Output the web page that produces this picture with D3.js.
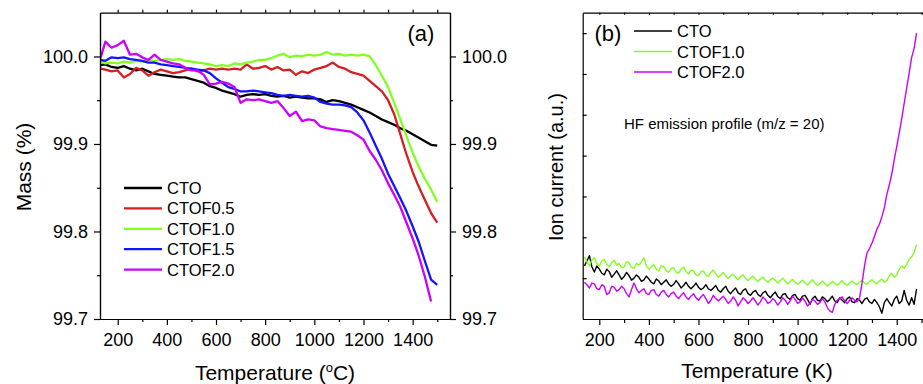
<!DOCTYPE html>
<html>
<head>
<meta charset="utf-8">
<script src="https://cdn.jsdelivr.net/npm/d3@7"></script>
<style>
body { margin: 0; background: #fff; }
text { font-family: "Liberation Sans", Arial, sans-serif; fill: #000; }
.axis .domain, .axis .tick line { stroke: #000; stroke-width: 1.2; }
.axis text { font-size: 18px; }
.line { fill: none; stroke-linejoin: round; }
</style>
</head>
<body>
<script>
// ---- panel (a) data: TGA mass (%) vs temperature (°C)
var tempA = [130, 150, 175, 200, 225, 250, 275, 300, 325, 350, 375, 400, 425, 450, 475, 500,
    525, 550, 575, 600, 625, 650, 675, 700, 725, 750, 775, 800, 825, 850, 875, 900,
    925, 950, 975, 1000, 1025, 1050, 1075, 1100, 1125, 1150, 1175, 1200, 1225, 1250,
    1275, 1300, 1325, 1350, 1375, 1400, 1425, 1450, 1475, 1500];

var massCTO = [99.990, 99.991, 99.988, 99.987, 99.989, 99.986, 99.984, 99.986, 99.983, 99.980,
    99.979, 99.978, 99.977, 99.976, 99.976, 99.974, 99.972, 99.970, 99.966, 99.964, 99.961,
    99.959, 99.957, 99.954, 99.956, 99.957, 99.956, 99.957, 99.955, 99.954, 99.955, 99.953,
    99.954, 99.953, 99.952, 99.952, 99.951, 99.948, 99.950, 99.949, 99.947, 99.945, 99.942,
    99.939, 99.936, 99.932, 99.928, 99.925, 99.922, 99.918, 99.915, 99.911, 99.907, 99.903,
    99.899, 99.898];

var massF05 = [99.986, 99.985, 99.983, 99.984, 99.976, 99.980, 99.987, 99.984, 99.978, 99.982,
    99.985, 99.983, 99.981, 99.982, 99.984, 99.986, 99.983, 99.984, 99.986, 99.985, 99.986,
    99.985, 99.986, 99.985, 99.991, 99.986, 99.987, 99.989, 99.985, 99.988, 99.984, 99.985,
    99.979, 99.983, 99.981, 99.985, 99.987, 99.989, 99.993, 99.988, 99.986, 99.982, 99.980,
    99.978, 99.972, 99.966, 99.960, 99.950, 99.934, 99.911, 99.888, 99.868, 99.851, 99.836,
    99.821, 99.810];

var massF10 = [99.995, 99.992, 99.993, 99.992, 99.994, 99.993, 99.995, 99.994, 99.996, 99.995,
    99.996, 99.997, 99.996, 99.997, 99.995, 99.994, 99.993, 99.992, 99.991, 99.989, 99.990,
    99.989, 99.992, 99.991, 99.993, 99.994, 99.996, 99.996, 99.998, 100.001, 100.003, 99.999,
    100.001, 100.000, 100.002, 100.001, 100.002, 100.005, 100.002, 100.003, 100.001, 100.002,
    100.001, 100.002, 100.000, 99.990, 99.978, 99.965, 99.947, 99.928, 99.909, 99.890, 99.874,
    99.860, 99.848, 99.834];

var massF15 = [99.996, 99.995, 99.999, 99.998, 99.999, 99.997, 99.996, 99.995, 99.993, 99.993,
    99.991, 99.990, 99.989, 99.988, 99.987, 99.986, 99.985, 99.984, 99.981, 99.975, 99.970,
    99.965, 99.963, 99.960, 99.960, 99.961, 99.960, 99.959, 99.958, 99.956, 99.955, 99.956,
    99.955, 99.954, 99.955, 99.953, 99.948, 99.946, 99.945, 99.945, 99.944, 99.942, 99.936,
    99.927, 99.913, 99.898, 99.883, 99.866, 99.852, 99.838, 99.823, 99.806, 99.788, 99.766,
    99.745, 99.739];

var massF20 = [99.998, 100.017, 100.010, 100.013, 100.018, 100.002, 100.003, 99.999, 99.996, 100.002,
    99.996, 99.994, 99.992, 99.991, 99.987, 99.984, 99.984, 99.979, 99.968, 99.969, 99.971,
    99.969, 99.965, 99.947, 99.951, 99.950, 99.951, 99.949, 99.947, 99.949, 99.941, 99.932,
    99.937, 99.926, 99.928, 99.927, 99.920, 99.918, 99.917, 99.916, 99.915, 99.914, 99.910,
    99.905, 99.892, 99.882, 99.870, 99.855, 99.842, 99.828, 99.810, 99.792, 99.772, 99.748,
    99.720, null];

var namesA = ["CTO", "CTOF0.5", "CTOF1.0", "CTOF1.5", "CTOF2.0"];
var colorsA = ["#000000", "#d42020", "#80ff20", "#1414ff", "#cc00ff"];
var seriesA = [massCTO, massF05, massF10, massF15, massF20];

// ---- panel (b) data: ion current (a.u.) vs temperature (K)
var tempB = [140, 150, 160, 170, 180, 190, 200, 210, 220, 230, 240, 250, 260, 270, 280, 290,
    300, 310, 320, 330, 340, 350, 360, 370, 380, 390, 400, 410, 420, 430, 440, 450, 460,
    470, 480, 490, 500, 510, 520, 530, 540, 550, 560, 570, 580, 590, 600, 610, 620, 630,
    640, 650, 660, 670, 680, 690, 700, 710, 720, 730, 740, 750, 760, 770, 780, 790, 800,
    810, 820, 830, 840, 850, 860, 870, 880, 890, 900, 910, 920, 930, 940, 950, 960, 970,
    980, 990, 1000, 1010, 1020, 1030, 1040, 1050, 1060, 1070, 1080, 1090, 1100, 1110, 1120,
    1130, 1140, 1150, 1160, 1170, 1180, 1190, 1200, 1210, 1220, 1230, 1240, 1250, 1260,
    1270, 1280, 1290, 1300, 1310, 1320, 1330, 1340, 1350, 1360, 1370, 1380, 1390, 1400,
    1410, 1420, 1430, 1440, 1450, 1460, 1470, 1480];

var ionCTO = [1.30, 1.42, 1.55, 1.28, 1.15, 1.30, 1.22, 1.12, 1.08, 1.22, 1.16, 1.02, 1.10, 1.18,
    1.08, 0.97, 1.04, 1.14, 1.06, 0.95, 1.00, 1.08, 1.02, 0.92, 0.96, 1.05, 0.98, 0.90, 0.86,
    0.98, 0.93, 0.84, 0.90, 0.96, 0.86, 0.80, 0.85, 0.94, 0.86, 0.76, 0.82, 0.90, 0.80, 0.74,
    0.80, 0.88, 0.78, 0.72, 0.76, 0.84, 0.74, 0.70, 0.76, 0.82, 0.70, 0.66, 0.74, 0.80, 0.68,
    0.62, 0.70, 0.76, 0.64, 0.60, 0.70, 0.74, 0.62, 0.58, 0.66, 0.70, 0.60, 0.55, 0.64, 0.68,
    0.58, 0.52, 0.60, 0.66, 0.55, 0.50, 0.60, 0.62, 0.52, 0.48, 0.58, 0.60, 0.50, 0.46, 0.56,
    0.58, 0.48, 0.36, 0.50, 0.56, 0.46, 0.44, 0.54, 0.50, 0.42, 0.48, 0.56, 0.44, 0.40, 0.52,
    0.46, 0.40, 0.50, 0.54, 0.42, 0.40, 0.50, 0.46, 0.38, 0.48, 0.52, 0.42, 0.38, 0.48, 0.40,
    0.30, 0.14, 0.40, 0.50, 0.40, 0.32, 0.48, 0.56, 0.38, 0.44, 0.70, 0.46, 0.34, 0.52, 0.36,
    0.74];

var ionF10 = [1.52, 1.40, 1.30, 1.45, 1.50, 1.36, 1.30, 1.42, 1.46, 1.34, 1.28, 1.38, 1.44, 1.32,
    1.36, 1.26, 1.27, 1.40, 1.38, 1.26, 1.24, 1.36, 1.32, 1.40, 1.50, 1.30, 1.22, 1.28, 1.33,
    1.22, 1.18, 1.30, 1.28, 1.18, 1.14, 1.24, 1.26, 1.15, 1.12, 1.22, 1.27, 1.16, 1.10, 1.20,
    1.18, 1.08, 1.06, 1.16, 1.18, 1.08, 1.04, 1.14, 1.20, 1.10, 1.02, 1.08, 1.14, 1.05, 0.99,
    1.06, 1.10, 1.02, 0.96, 1.04, 1.08, 0.99, 0.94, 1.00, 1.05, 0.97, 0.92, 0.98, 1.03, 0.95,
    0.90, 0.96, 1.00, 0.94, 0.88, 0.94, 1.00, 0.93, 0.86, 0.92, 0.97, 0.90, 0.85, 0.90, 0.95,
    0.88, 0.83, 0.90, 0.96, 0.88, 0.82, 0.86, 0.93, 0.87, 0.81, 0.86, 0.92, 0.88, 0.83, 0.88,
    0.94, 0.86, 0.82, 0.88, 0.93, 0.87, 0.84, 0.90, 0.95, 0.88, 0.85, 0.92, 0.96, 0.90, 0.86,
    0.93, 0.98, 0.90, 0.94, 1.06, 1.12, 1.02, 1.08, 1.22, 1.30, 1.24, 1.34, 1.46, 1.52, 1.62,
    1.82];

var ionF20 = [0.90, 0.84, 0.76, 0.88, 0.86, 0.74, 0.72, 0.84, 0.80, 0.60, 0.64, 0.80, 0.78, 0.68,
    0.72, 0.80, 0.74, 0.62, 0.54, 0.72, 0.88, 0.74, 0.64, 0.70, 0.74, 0.62, 0.60, 0.70, 0.72,
    0.60, 0.56, 0.66, 0.70, 0.60, 0.54, 0.62, 0.66, 0.56, 0.50, 0.58, 0.64, 0.54, 0.48, 0.56,
    0.62, 0.52, 0.46, 0.54, 0.60, 0.50, 0.38, 0.46, 0.58, 0.50, 0.44, 0.50, 0.56, 0.48, 0.38,
    0.44, 0.54, 0.46, 0.32, 0.42, 0.52, 0.46, 0.38, 0.44, 0.52, 0.44, 0.34, 0.42, 0.54, 0.48,
    0.38, 0.42, 0.50, 0.44, 0.34, 0.42, 0.52, 0.46, 0.36, 0.44, 0.56, 0.48, 0.38, 0.42, 0.52,
    0.44, 0.32, 0.38, 0.48, 0.44, 0.36, 0.40, 0.50, 0.42, 0.28, 0.20, 0.16, 0.36, 0.46, 0.50,
    0.54, 0.44, 0.38, 0.46, 0.52, 0.46, 0.42, 0.52, 0.88, 1.30, 1.62, 1.72, 1.86, 2.02, 2.20,
    2.32, 2.50, 2.72, 3.05, 3.28, 3.55, 3.90, 4.22, 4.55, 4.90, 5.28, 5.65, 6.02, 6.40, 6.62,
    7.00];

var namesB = ["CTO", "CTOF1.0", "CTOF2.0"];
var colorsB = ["#000000", "#80ff20", "#cc00ff"];
var seriesB = [ionCTO, ionF10, ionF20];

var xMajor = [200, 400, 600, 800, 1000, 1200, 1400];
var xMinor = [100, 300, 500, 700, 900, 1100, 1300, 1500];
var yMajorA = [99.7, 99.8, 99.9, 100.0];
var yMinorA = [99.75, 99.85, 99.95];
var yTicksB = [1, 2, 3, 4, 5, 6, 7];

var svg = d3.select("body").append("svg")
    .attr("width", 923)
    .attr("height", 384)
    .style("background", "#fff");

// ================= panel (a) =================
var xa = d3.scaleLinear().domain([128, 1552]).range([100, 450]);
var ya = d3.scaleLinear().domain([99.7, 100.05]).range([319, 12.7]);

svg.append("defs").append("clipPath").attr("id", "clipA")
    .append("rect").attr("x", 100).attr("y", 12.7).attr("width", 350).attr("height", 306.3);

var lineA = function(vals) {
    return d3.line()
        .defined(function(d, i) { return vals[i] != null; })
        .x(function(d, i) { return xa(tempA[i]); })
        .y(function(d, i) { return ya(vals[i]); })(tempA);
};

var gA = svg.append("g").attr("clip-path", "url(#clipA)");
seriesA.forEach(function(vals, k) {
    gA.append("path")
        .attr("class", "line")
        .attr("d", lineA(vals))
        .attr("stroke", colorsA[k])
        .attr("stroke-width", 2.3);
});

// bottom axis
svg.append("g").attr("class", "axis").attr("transform", "translate(0,319)")
    .call(d3.axisBottom(xa).tickValues(xMinor.filter(function(t) { return t > 128; }))
        .tickSize(3).tickSizeOuter(0).tickFormat(""));
svg.append("g").attr("class", "axis").attr("transform", "translate(0,319)")
    .call(d3.axisBottom(xa).tickValues(xMajor).tickSize(6).tickSizeOuter(0)
        .tickPadding(8).tickFormat(d3.format("d")));

// top axis
svg.append("g").attr("class", "axis").attr("transform", "translate(0,12.7)")
    .call(d3.axisTop(xa).tickValues(xMajor.concat(xMinor).filter(function(t) { return t > 128; }))
        .tickSize(3).tickSizeOuter(0).tickFormat(""));

// left axis
svg.append("g").attr("class", "axis").attr("transform", "translate(100,0)")
    .call(d3.axisLeft(ya).tickValues(yMinorA).tickSize(3).tickSizeOuter(0).tickFormat(""));
svg.append("g").attr("class", "axis").attr("transform", "translate(100,0)")
    .call(d3.axisLeft(ya).tickValues(yMajorA).tickSize(6).tickSizeOuter(0)
        .tickPadding(6).tickFormat(d3.format(".1f")));

// right axis
svg.append("g").attr("class", "axis").attr("transform", "translate(450,0)")
    .call(d3.axisRight(ya).tickValues(yMinorA).tickSize(3).tickSizeOuter(0).tickFormat(""));
svg.append("g").attr("class", "axis").attr("transform", "translate(450,0)")
    .call(d3.axisRight(ya).tickValues(yMajorA).tickSize(6).tickSizeOuter(0)
        .tickPadding(6).tickFormat(d3.format(".1f")));

// axis titles
var tA = svg.append("text")
    .attr("x", 275).attr("y", 380)
    .attr("text-anchor", "middle")
    .style("font-size", "21px");
tA.append("tspan").text("Temperature (");
tA.append("tspan").attr("dy", -8).style("font-size", "13px").text("o");
tA.append("tspan").attr("dy", 8).text("C)");

svg.append("text")
    .attr("transform", "translate(31,167) rotate(-90)")
    .attr("text-anchor", "middle")
    .style("font-size", "21px")
    .text("Mass (%)");

svg.append("text")
    .attr("x", 421).attr("y", 41)
    .attr("text-anchor", "middle")
    .style("font-size", "22px")
    .text("(a)");

// legend
namesA.forEach(function(n, k) {
    var cy = 188 + k * 20.4;
    svg.append("line")
        .attr("x1", 124).attr("x2", 162).attr("y1", cy).attr("y2", cy)
        .attr("stroke", colorsA[k]).attr("stroke-width", 2.3);
    svg.append("text")
        .attr("x", 167).attr("y", cy + 6)
        .style("font-size", "16.5px")
        .text(n);
});

// ================= panel (b) =================
var xb = d3.scaleLinear().domain([133, 1510]).range([582.7, 924]);
var yb = d3.scaleLinear().domain([0, 7.5]).range([319, 12.7]);

svg.select("defs").append("clipPath").attr("id", "clipB")
    .append("rect").attr("x", 582.7).attr("y", 12.7).attr("width", 342).attr("height", 306.3);

var lineB = function(vals) {
    return d3.line()
        .x(function(d, i) { return xb(tempB[i]); })
        .y(function(d, i) { return yb(vals[i]); })(tempB);
};

var gB = svg.append("g").attr("clip-path", "url(#clipB)");
seriesB.forEach(function(vals, k) {
    gB.append("path")
        .attr("class", "line")
        .attr("d", lineB(vals))
        .attr("stroke", colorsB[k])
        .attr("stroke-width", 1.4);
});

// bottom axis
svg.append("g").attr("class", "axis").attr("transform", "translate(0,319)")
    .call(d3.axisBottom(xb).tickValues(xMinor.filter(function(t) { return t > 133; }))
        .tickSize(4).tickSizeOuter(0).tickFormat(""));
svg.append("g").attr("class", "axis").attr("transform", "translate(0,319)")
    .call(d3.axisBottom(xb).tickValues(xMajor).tickSize(6).tickSizeOuter(0)
        .tickPadding(8).tickFormat(d3.format("d")));

// top axis
svg.append("g").attr("class", "axis").attr("transform", "translate(0,12.7)")
    .call(d3.axisTop(xb).tickValues(xMajor.concat(xMinor).filter(function(t) { return t > 133; }))
        .tickSize(-2).tickSizeOuter(0).tickFormat(""));

// left axis, ticks inside and no labels
svg.append("g").attr("class", "axis").attr("transform", "translate(582.7,0)")
    .call(d3.axisLeft(yb).tickValues(yTicksB).tickSize(-4).tickSizeOuter(0).tickFormat(""));

svg.append("text")
    .attr("x", 757).attr("y", 378)
    .attr("text-anchor", "middle")
    .style("font-size", "21px")
    .text("Temperature (K)");

svg.append("text")
    .attr("transform", "translate(563,167) rotate(-90)")
    .attr("text-anchor", "middle")
    .style("font-size", "20px")
    .text("Ion current (a.u.)");

svg.append("text")
    .attr("x", 608).attr("y", 41)
    .attr("text-anchor", "middle")
    .style("font-size", "22px")
    .text("(b)");

svg.append("text")
    .attr("x", 624).attr("y", 129)
    .style("font-size", "15px")
    .text("HF emission profile (m/z = 20)");

namesB.forEach(function(n, k) {
    var cy = 31 + k * 20.5;
    svg.append("line")
        .attr("x1", 634).attr("x2", 672).attr("y1", cy).attr("y2", cy)
        .attr("stroke", colorsB[k]).attr("stroke-width", 1.4);
    svg.append("text")
        .attr("x", 677).attr("y", cy + 6)
        .style("font-size", "16.5px")
        .text(n);
});
</script>
</body>
</html>
